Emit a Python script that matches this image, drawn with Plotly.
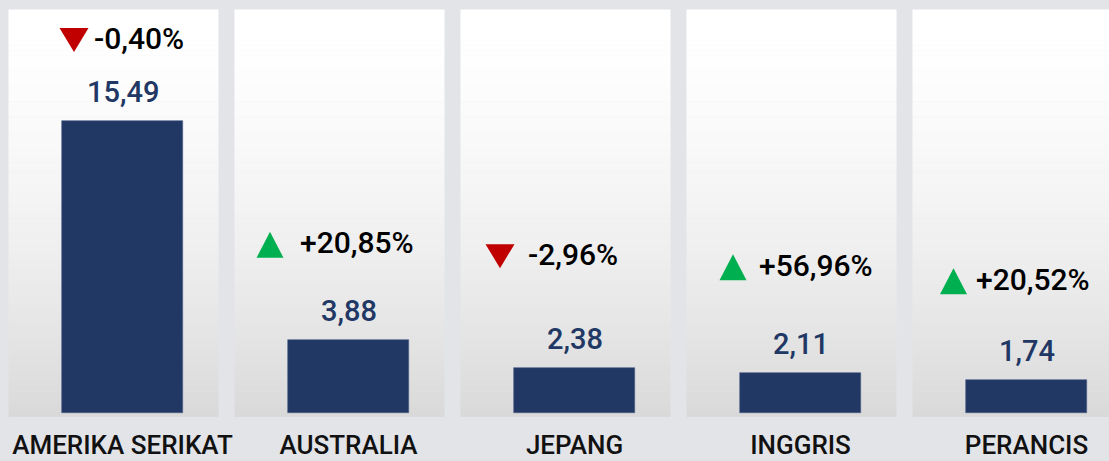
import plotly.graph_objects as go

# ---- data ----
countries = ["AMERIKA SERIKAT", "AUSTRALIA", "JEPANG", "INGGRIS", "PERANCIS"]
values = [15.49, 3.88, 2.38, 2.11, 1.74]
value_labels = ["15,49", "3,88", "2,38", "2,11", "1,74"]
changes = [-0.40, 20.85, -2.96, 56.96, 20.52]
change_labels = ["-0,40%", "+20,85%", "-2,96%", "+56,96%", "+20,52%"]

# ---- layout geometry (pixels) ----
W, H = 1109, 461
M_L, M_R, M_T, M_B = 0, 0, 0, 44
plot_w = W - M_L - M_R
plot_h = H - M_T - M_B
px_x = 226.0            # pixels per category step
px_y = 18.85            # pixels per value unit
x0_px = 122.5           # pixel centre of first bar
base_px = 4             # pixels between plot bottom and bar base
x_range = [-x0_px / px_x, (plot_w - x0_px) / px_x]
y_min = -base_px / px_y
y_range = [y_min, y_min + plot_h / px_y]

# per-panel offsets (pixels) of change label block above bar top
change_yshift = [83, 97, 114, 108, 101]
tri_dx = [-48.5, -78.5, -74.5, -67.5, -73]
text_dx = [-31, -51, -49, -44, -53]

navy = "#213764"
red = "#c00000"
green = "#00b050"

xs = list(range(len(countries)))

fig = go.Figure()

# panels (gradient approximated with bands)
shapes = []
n_bands = 80
panel_top_px = 10
panel_bot_px = H - M_B  # plot bottom
for i in xs:
    left = i + (-114) / px_x
    right = i + 96 / px_x
    for b in range(n_bands):
        t0 = b / n_bands
        t1 = (b + 1) / n_bands
        ytop = 1 - (panel_top_px + t0 * (panel_bot_px - panel_top_px)) / plot_h
        ybot = 1 - (panel_top_px + t1 * (panel_bot_px - panel_top_px)) / plot_h
        g = 255 - (255 - 217) * ((t0 + t1) / 2) ** 1.6
        shapes.append(dict(type="rect", xref="x", yref="paper",
                           x0=left, x1=right, y0=ybot, y1=ytop + 0.001,
                           fillcolor=f"rgb({g:.1f},{g:.1f},{g:.1f})", line=dict(width=0),
                           layer="below"))

# triangles (pixel-sized path shapes anchored in data coordinates)
for i in xs:
    if changes[i] < 0:
        path, col = "M-14.5,12 L14.5,12 L0,-12 Z", red
    else:
        path, col = "M-13.5,-13 L13.5,-13 L0,13 Z", green
    shapes.append(dict(type="path", xref="x", yref="y",
                       xsizemode="pixel", ysizemode="pixel",
                       xanchor=i + tri_dx[i] / px_x,
                       yanchor=values[i] + (change_yshift[i] - 2) / px_y,
                       path=path, fillcolor=col, line=dict(width=0),
                       layer="above"))

fig.add_trace(go.Bar(
    x=xs, y=values, width=121 / px_x,
    marker=dict(color=navy, line=dict(color="#4a5d88", width=0.6)),
    hoverinfo="skip", showlegend=False,
))

annotations = []
for i in xs:
    annotations.append(dict(
        x=i, y=values[i], xref="x", yref="y", text=value_labels[i],
        showarrow=False, yanchor="middle", xanchor="center", yshift=29,
        font=dict(family="Roboto", size=29, color=navy, weight=500)))
    annotations.append(dict(
        x=i, y=values[i], xref="x", yref="y", text=change_labels[i],
        showarrow=False, yanchor="middle", xanchor="left",
        xshift=text_dx[i], yshift=change_yshift[i],
        font=dict(family="Roboto", size=30, color="#000000", weight=500)))

fig.update_layout(
    width=W, height=H,
    margin=dict(l=M_L, r=M_R, t=M_T, b=M_B, pad=0, autoexpand=False),
    paper_bgcolor="#e3e4e8",
    plot_bgcolor="rgba(0,0,0,0)",
    shapes=shapes,
    annotations=annotations,
    bargap=0,
    xaxis=dict(range=x_range, tickmode="array", tickvals=xs, ticktext=countries,
               showgrid=False, zeroline=False, showline=False, automargin=False,
               ticks="outside", ticklen=5, tickcolor="rgba(0,0,0,0)",
               tickfont=dict(family="Roboto", size=26, color="#111111", weight=500),
               fixedrange=True),
    yaxis=dict(range=y_range, visible=False, fixedrange=True, automargin=False),
)

fig.write_html("out.html", config={"displayModeBar": False},
               post_script="document.body.style.margin='0';document.body.style.overflow='hidden';")
